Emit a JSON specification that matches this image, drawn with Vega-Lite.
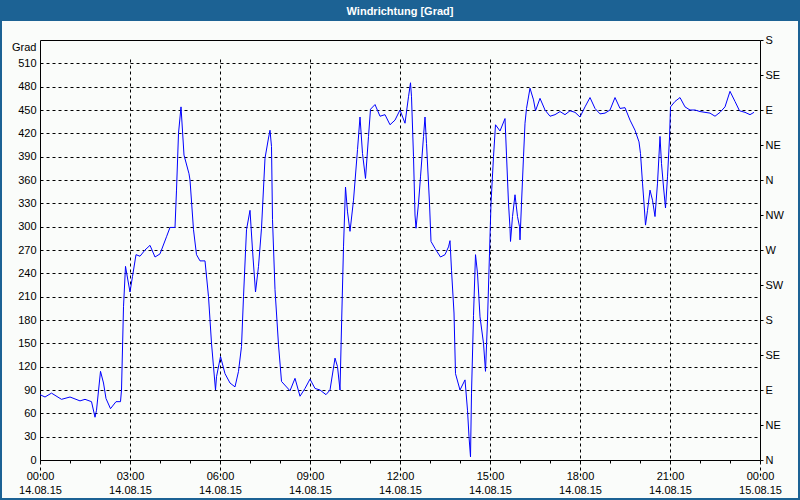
{
  "$schema": "https://vega.github.io/schema/vega-lite/v6.json",
  "width": 720,
  "height": 401,
  "autosize": {"type": "none"},
  "padding": {"left": 40, "top": 59, "right": 40, "bottom": 40},
  "background": "#1c6294",
  "title": {"text": "Windrichtung [Grad]", "color": "#ffffff", "font": "Liberation Sans", "fontSize": 11, "fontWeight": "bold", "anchor": "middle", "offset": 17},
  "config": {
    "view": {"fill": "#fafcfa", "stroke": "#fafcfa", "strokeWidth": 76},
    "axis": {"labelFont": "Liberation Sans", "labelFontSize": 11, "labelColor": "#000000", "domainColor": "#000000", "tickColor": "#000000", "gridColor": "#000000", "gridDash": [3, 3], "gridOpacity": 1, "titleFont": "Liberation Sans", "titleFontSize": 11, "titleFontWeight": "normal", "titleColor": "#000000"}
  },
  "data": {"values": [
    {"t": "2015-08-14T00:00", "v": 84}, {"t": "2015-08-14T00:10", "v": 81}, {"t": "2015-08-14T00:23", "v": 86}, {"t": "2015-08-14T00:43", "v": 78},
    {"t": "2015-08-14T01:00", "v": 81}, {"t": "2015-08-14T01:20", "v": 76}, {"t": "2015-08-14T01:30", "v": 78}, {"t": "2015-08-14T01:43", "v": 75},
    {"t": "2015-08-14T01:50", "v": 55}, {"t": "2015-08-14T01:53", "v": 64}, {"t": "2015-08-14T02:01", "v": 114}, {"t": "2015-08-14T02:07", "v": 99},
    {"t": "2015-08-14T02:12", "v": 79}, {"t": "2015-08-14T02:21", "v": 66}, {"t": "2015-08-14T02:32", "v": 75}, {"t": "2015-08-14T02:41", "v": 75},
    {"t": "2015-08-14T02:43", "v": 90}, {"t": "2015-08-14T02:47", "v": 197}, {"t": "2015-08-14T02:51", "v": 249}, {"t": "2015-08-14T02:55", "v": 234},
    {"t": "2015-08-14T03:00", "v": 216}, {"t": "2015-08-14T03:05", "v": 236}, {"t": "2015-08-14T03:12", "v": 264}, {"t": "2015-08-14T03:20", "v": 262},
    {"t": "2015-08-14T03:30", "v": 270}, {"t": "2015-08-14T03:40", "v": 276}, {"t": "2015-08-14T03:50", "v": 261}, {"t": "2015-08-14T04:00", "v": 265},
    {"t": "2015-08-14T04:13", "v": 287}, {"t": "2015-08-14T04:20", "v": 299}, {"t": "2015-08-14T04:30", "v": 299}, {"t": "2015-08-14T04:33", "v": 347},
    {"t": "2015-08-14T04:37", "v": 420}, {"t": "2015-08-14T04:42", "v": 454}, {"t": "2015-08-14T04:48", "v": 392}, {"t": "2015-08-14T04:58", "v": 368},
    {"t": "2015-08-14T05:00", "v": 360}, {"t": "2015-08-14T05:07", "v": 296}, {"t": "2015-08-14T05:13", "v": 264}, {"t": "2015-08-14T05:20", "v": 256},
    {"t": "2015-08-14T05:30", "v": 256}, {"t": "2015-08-14T05:37", "v": 210}, {"t": "2015-08-14T05:43", "v": 150}, {"t": "2015-08-14T05:47", "v": 120},
    {"t": "2015-08-14T05:51", "v": 90}, {"t": "2015-08-14T05:53", "v": 107}, {"t": "2015-08-14T06:01", "v": 133}, {"t": "2015-08-14T06:10", "v": 111},
    {"t": "2015-08-14T06:20", "v": 99}, {"t": "2015-08-14T06:30", "v": 94}, {"t": "2015-08-14T06:37", "v": 114}, {"t": "2015-08-14T06:43", "v": 146},
    {"t": "2015-08-14T06:47", "v": 210}, {"t": "2015-08-14T06:53", "v": 296}, {"t": "2015-08-14T07:00", "v": 321}, {"t": "2015-08-14T07:05", "v": 270},
    {"t": "2015-08-14T07:11", "v": 216}, {"t": "2015-08-14T07:17", "v": 249}, {"t": "2015-08-14T07:23", "v": 298}, {"t": "2015-08-14T07:30", "v": 388},
    {"t": "2015-08-14T07:37", "v": 414}, {"t": "2015-08-14T07:40", "v": 424}, {"t": "2015-08-14T07:43", "v": 403}, {"t": "2015-08-14T07:45", "v": 309},
    {"t": "2015-08-14T07:50", "v": 219}, {"t": "2015-08-14T07:57", "v": 148}, {"t": "2015-08-14T08:03", "v": 101}, {"t": "2015-08-14T08:20", "v": 89},
    {"t": "2015-08-14T08:30", "v": 105}, {"t": "2015-08-14T08:40", "v": 82}, {"t": "2015-08-14T08:50", "v": 92}, {"t": "2015-08-14T09:00", "v": 104},
    {"t": "2015-08-14T09:10", "v": 92}, {"t": "2015-08-14T09:20", "v": 90}, {"t": "2015-08-14T09:32", "v": 84}, {"t": "2015-08-14T09:40", "v": 90},
    {"t": "2015-08-14T09:50", "v": 131}, {"t": "2015-08-14T09:55", "v": 120}, {"t": "2015-08-14T10:00", "v": 90}, {"t": "2015-08-14T10:03", "v": 171},
    {"t": "2015-08-14T10:07", "v": 274}, {"t": "2015-08-14T10:11", "v": 351}, {"t": "2015-08-14T10:15", "v": 319}, {"t": "2015-08-14T10:20", "v": 294},
    {"t": "2015-08-14T10:27", "v": 334}, {"t": "2015-08-14T10:35", "v": 399}, {"t": "2015-08-14T10:40", "v": 441}, {"t": "2015-08-14T10:45", "v": 394},
    {"t": "2015-08-14T10:51", "v": 362}, {"t": "2015-08-14T10:57", "v": 416}, {"t": "2015-08-14T11:01", "v": 451}, {"t": "2015-08-14T11:10", "v": 457},
    {"t": "2015-08-14T11:20", "v": 442}, {"t": "2015-08-14T11:30", "v": 444}, {"t": "2015-08-14T11:40", "v": 431}, {"t": "2015-08-14T11:50", "v": 437},
    {"t": "2015-08-14T12:00", "v": 450}, {"t": "2015-08-14T12:10", "v": 433}, {"t": "2015-08-14T12:17", "v": 467}, {"t": "2015-08-14T12:21", "v": 485},
    {"t": "2015-08-14T12:23", "v": 467}, {"t": "2015-08-14T12:27", "v": 390}, {"t": "2015-08-14T12:30", "v": 315}, {"t": "2015-08-14T12:32", "v": 298},
    {"t": "2015-08-14T12:37", "v": 330}, {"t": "2015-08-14T12:41", "v": 364}, {"t": "2015-08-14T12:47", "v": 416}, {"t": "2015-08-14T12:50", "v": 441},
    {"t": "2015-08-14T12:53", "v": 407}, {"t": "2015-08-14T12:59", "v": 330}, {"t": "2015-08-14T13:02", "v": 281}, {"t": "2015-08-14T13:10", "v": 272},
    {"t": "2015-08-14T13:21", "v": 261}, {"t": "2015-08-14T13:30", "v": 264}, {"t": "2015-08-14T13:37", "v": 274}, {"t": "2015-08-14T13:40", "v": 282},
    {"t": "2015-08-14T13:43", "v": 244}, {"t": "2015-08-14T13:48", "v": 189}, {"t": "2015-08-14T13:51", "v": 111}, {"t": "2015-08-14T14:00", "v": 90},
    {"t": "2015-08-14T14:10", "v": 103}, {"t": "2015-08-14T14:15", "v": 64}, {"t": "2015-08-14T14:18", "v": 30}, {"t": "2015-08-14T14:21", "v": 4},
    {"t": "2015-08-14T14:23", "v": 86}, {"t": "2015-08-14T14:27", "v": 186}, {"t": "2015-08-14T14:31", "v": 264}, {"t": "2015-08-14T14:35", "v": 240},
    {"t": "2015-08-14T14:40", "v": 184}, {"t": "2015-08-14T14:47", "v": 150}, {"t": "2015-08-14T14:51", "v": 114}, {"t": "2015-08-14T14:55", "v": 180},
    {"t": "2015-08-14T14:59", "v": 266}, {"t": "2015-08-14T15:02", "v": 330}, {"t": "2015-08-14T15:07", "v": 390}, {"t": "2015-08-14T15:11", "v": 431},
    {"t": "2015-08-14T15:20", "v": 423}, {"t": "2015-08-14T15:30", "v": 439}, {"t": "2015-08-14T15:33", "v": 392}, {"t": "2015-08-14T15:37", "v": 330},
    {"t": "2015-08-14T15:40", "v": 298}, {"t": "2015-08-14T15:41", "v": 281}, {"t": "2015-08-14T15:45", "v": 313}, {"t": "2015-08-14T15:50", "v": 341},
    {"t": "2015-08-14T15:55", "v": 313}, {"t": "2015-08-14T15:59", "v": 300}, {"t": "2015-08-14T16:00", "v": 283}, {"t": "2015-08-14T16:03", "v": 330},
    {"t": "2015-08-14T16:07", "v": 390}, {"t": "2015-08-14T16:10", "v": 433}, {"t": "2015-08-14T16:13", "v": 452}, {"t": "2015-08-14T16:20", "v": 478},
    {"t": "2015-08-14T16:27", "v": 463}, {"t": "2015-08-14T16:31", "v": 449}, {"t": "2015-08-14T16:40", "v": 465}, {"t": "2015-08-14T16:50", "v": 450},
    {"t": "2015-08-14T17:00", "v": 442}, {"t": "2015-08-14T17:10", "v": 444}, {"t": "2015-08-14T17:20", "v": 448}, {"t": "2015-08-14T17:30", "v": 444},
    {"t": "2015-08-14T17:40", "v": 449}, {"t": "2015-08-14T17:50", "v": 447}, {"t": "2015-08-14T18:00", "v": 441}, {"t": "2015-08-14T18:10", "v": 454},
    {"t": "2015-08-14T18:20", "v": 466}, {"t": "2015-08-14T18:30", "v": 452}, {"t": "2015-08-14T18:40", "v": 445}, {"t": "2015-08-14T18:50", "v": 446},
    {"t": "2015-08-14T19:00", "v": 450}, {"t": "2015-08-14T19:10", "v": 466}, {"t": "2015-08-14T19:20", "v": 452}, {"t": "2015-08-14T19:30", "v": 453},
    {"t": "2015-08-14T19:40", "v": 437}, {"t": "2015-08-14T19:50", "v": 424}, {"t": "2015-08-14T19:58", "v": 409}, {"t": "2015-08-14T20:01", "v": 394},
    {"t": "2015-08-14T20:05", "v": 356}, {"t": "2015-08-14T20:08", "v": 330}, {"t": "2015-08-14T20:11", "v": 302}, {"t": "2015-08-14T20:15", "v": 321},
    {"t": "2015-08-14T20:20", "v": 347}, {"t": "2015-08-14T20:25", "v": 334}, {"t": "2015-08-14T20:30", "v": 313}, {"t": "2015-08-14T20:35", "v": 356},
    {"t": "2015-08-14T20:40", "v": 416}, {"t": "2015-08-14T20:43", "v": 381}, {"t": "2015-08-14T20:47", "v": 351}, {"t": "2015-08-14T20:51", "v": 324},
    {"t": "2015-08-14T20:55", "v": 364}, {"t": "2015-08-14T20:59", "v": 414}, {"t": "2015-08-14T21:01", "v": 454}, {"t": "2015-08-14T21:10", "v": 461},
    {"t": "2015-08-14T21:20", "v": 466}, {"t": "2015-08-14T21:30", "v": 454}, {"t": "2015-08-14T21:40", "v": 450}, {"t": "2015-08-14T21:50", "v": 450},
    {"t": "2015-08-14T22:00", "v": 448}, {"t": "2015-08-14T22:10", "v": 447}, {"t": "2015-08-14T22:20", "v": 446}, {"t": "2015-08-14T22:30", "v": 442},
    {"t": "2015-08-14T22:40", "v": 447}, {"t": "2015-08-14T22:50", "v": 454}, {"t": "2015-08-14T23:00", "v": 474}, {"t": "2015-08-14T23:10", "v": 461},
    {"t": "2015-08-14T23:19", "v": 449}, {"t": "2015-08-14T23:30", "v": 447}, {"t": "2015-08-14T23:40", "v": 444}, {"t": "2015-08-14T23:48", "v": 447}
  ]},
  "resolve": {"scale": {"x": "independent", "y": "independent"}},
  "layer": [
    {
      "mark": {"type": "line", "stroke": "#0000ff", "strokeWidth": 1},
      "encoding": {
        "x": {"field": "t", "type": "temporal",
          "scale": {"domain": ["2015-08-14T00:00", "2015-08-15T00:00"], "nice": false},
          "axis": {"orient": "bottom", "grid": false, "tickCount": 24, "tickSize": 3, "labels": false, "title": null}},
        "y": {"field": "v", "type": "quantitative",
          "scale": {"domain": [0, 540], "range": [401, -19], "nice": false},
          "axis": {"orient": "left", "grid": true, "ticks": false, "labelPadding": 4,
            "values": [0, 30, 60, 90, 120, 150, 180, 210, 240, 270, 300, 330, 360, 390, 420, 450, 480, 510],
            "title": "Grad", "titleAngle": 0, "titleAlign": "right", "titleBaseline": "top", "titleX": -4, "titleY": -18}}
      }
    },
    {
      "mark": {"type": "line", "strokeOpacity": 0},
      "encoding": {
        "x": {"field": "t", "type": "temporal",
          "scale": {"domain": ["2015-08-14T00:00", "2015-08-15T00:00"], "nice": false},
          "axis": {"orient": "top", "offset": 19, "grid": false, "ticks": false, "labels": false, "title": null}},
        "y": {"field": "v", "type": "quantitative",
          "scale": {"domain": [0, 540], "range": [401, -19], "nice": false},
          "axis": {"orient": "right", "grid": false, "tickSize": 3, "labelPadding": 2, "title": null,
            "values": [0, 45, 90, 135, 180, 225, 270, 315, 360, 405, 450, 495, 540],
            "labelExpr": "datum.value == 0 || datum.value == 360 ? 'N' : datum.value == 45 || datum.value == 405 ? 'NE' : datum.value == 90 || datum.value == 450 ? 'E' : datum.value == 135 || datum.value == 495 ? 'SE' : datum.value == 180 || datum.value == 540 ? 'S' : datum.value == 225 ? 'SW' : datum.value == 270 ? 'W' : 'NW'"}}
      }
    },
    {
      "mark": {"type": "line", "strokeOpacity": 0},
      "encoding": {
        "x": {"field": "t", "type": "temporal",
          "scale": {"domain": ["2015-08-14T00:00", "2015-08-15T00:00"], "nice": false},
          "axis": {"orient": "bottom", "grid": true, "ticks": false, "domain": false, "tickCount": 8, "format": "%H:%M", "labelPadding": 10, "labelFlush": false, "title": null}},
        "y": {"field": "v", "type": "quantitative",
          "scale": {"domain": [0, 540], "range": [401, -19], "nice": false}, "axis": null}
      }
    },
    {
      "mark": {"type": "line", "strokeOpacity": 0},
      "encoding": {
        "x": {"field": "t", "type": "temporal",
          "scale": {"domain": ["2015-08-14T00:00", "2015-08-15T00:00"], "nice": false},
          "axis": {"orient": "bottom", "grid": false, "ticks": false, "domain": false, "tickCount": 8, "format": "%d.%m.%y", "labelPadding": 24, "labelFlush": false, "title": null}},
        "y": {"field": "v", "type": "quantitative",
          "scale": {"domain": [0, 540], "range": [401, -19], "nice": false}, "axis": null}
      }
    }
  ]
}
